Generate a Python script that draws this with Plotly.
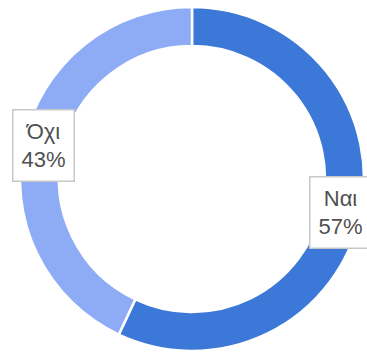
import math
import plotly.graph_objects as go

# Survey answers and their shares (percent)
labels = ["Ναι", "Όχι"]
values = [57, 43]
colors = ["#3c78d8", "#8eacf5"]

W, H = 367, 353
# Ring geometry in pixels
cx, cy = 192, 179          # centre (from top-left)
r_out, r_in = 172, 133

fig = go.Figure(
    go.Pie(
        labels=labels,
        values=values,
        hole=r_in / r_out,
        sort=False,
        direction="clockwise",
        rotation=0,
        textinfo="none",
        hoverinfo="label+percent",
        marker=dict(colors=colors, line=dict(color="white", width=2.5)),
        domain=dict(
            x=[(cx - r_out) / W, (cx + r_out) / W],
            y=[(H - cy - r_out) / H, (H - cy + r_out) / H],
        ),
        showlegend=False,
    )
)

# Boxed labels placed at each slice's angular midpoint, in the middle of the ring
total = sum(values)
r_mid = (r_out + r_in) / 2
annotations = []
cum = 0
for lab, val in zip(labels, values):
    mid = (cum + val / 2) / total * 2 * math.pi
    cum += val
    px = cx + r_mid * math.sin(mid)
    py = cy - r_mid * math.cos(mid)
    pct = round(val / total * 100)
    annotations.append(
        dict(
            x=px / W,
            y=1 - py / H,
            xref="paper",
            yref="paper",
            text=f"{lab}<br>{pct}%",
            showarrow=False,
            xanchor="center",
            yanchor="middle",
            font=dict(family="Liberation Sans, Arial, sans-serif", size=22, color="#505050"),
            bgcolor="white",
            bordercolor="#c8c8c8",
            borderwidth=1.5,
            borderpad=8,
        )
    )

fig.update_layout(
    width=W,
    height=H,
    margin=dict(l=0, r=0, t=0, b=0),
    paper_bgcolor="white",
    plot_bgcolor="white",
    annotations=annotations,
)

fig.write_html("out.html")
